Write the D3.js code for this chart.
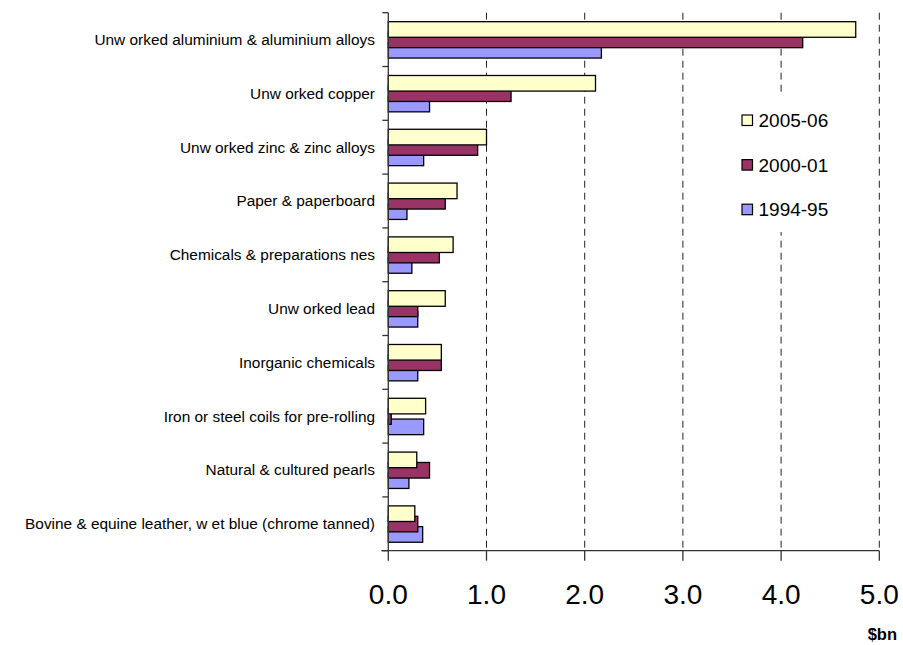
<!DOCTYPE html>
<html>
<head>
<meta charset="utf-8">
<script src="https://cdn.jsdelivr.net/npm/d3@7"></script>
<style>
  html, body { margin: 0; padding: 0; background: #fff; }
  svg { display: block; font-family: "Liberation Sans", Arial, sans-serif; }
</style>
</head>
<body>
<svg id="chart" width="903" height="645"></svg>
<script>
// Commodity categories, top to bottom
const categories = [
  "Unw orked aluminium & aluminium alloys",
  "Unw orked copper",
  "Unw orked zinc & zinc alloys",
  "Paper & paperboard",
  "Chemicals & preparations nes",
  "Unw orked lead",
  "Inorganic chemicals",
  "Iron or steel coils for pre-rolling",
  "Natural & cultured pearls",
  "Bovine & equine leather, w et blue (chrome tanned)"
];

// Series names and values ($bn)
const seriesNames = ["2005-06", "2000-01", "1994-95"];
const values2005 = [4.76, 2.11, 1.00, 0.70, 0.66, 0.58, 0.54, 0.38, 0.29, 0.27];
const values2000 = [4.22, 1.25, 0.91, 0.58, 0.52, 0.30, 0.54, 0.03, 0.42, 0.30];
const values1994 = [2.17, 0.42, 0.36, 0.19, 0.24, 0.30, 0.30, 0.36, 0.21, 0.35];
const seriesColors = ["#FFFFCC", "#993366", "#9999FF"];

const xTicks = [0, 1, 2, 3, 4, 5];
const xTickLabels = ["0.0", "1.0", "2.0", "3.0", "4.0", "5.0"];
const unitLabel = "$bn";

const seriesValues = [values2005, values2000, values1994];

const svg = d3.select("#chart");

const plot = { left: 388.3, right: 879.3, top: 12.7, bottom: 550.7 };

const x = d3.scaleLinear().domain([0, 5]).range([plot.left, plot.right]);
const y = d3.scaleBand().domain(categories).range([plot.top, plot.bottom]).paddingInner(0).paddingOuter(0);
const bw = y.bandwidth();
// overlapping bars inside each band
const barH = bw * 0.29;
const offset = d3.scalePoint().domain(seriesNames).range([bw * 0.167, bw * 0.553]);

// dashed vertical gridlines
svg.append("g")
  .selectAll("line")
  .data(xTicks.filter(d => d > 0))
  .join("line")
  .attr("x1", d => x(d)).attr("x2", d => x(d))
  .attr("y1", plot.top).attr("y2", plot.bottom)
  .attr("stroke", "#222")
  .attr("stroke-width", 1)
  .attr("stroke-dasharray", "7,5");

// bars: drawn bottom series first so the top series overlaps
const barsG = svg.append("g");
for (let s = seriesNames.length - 1; s >= 0; s--) {
  barsG.append("g")
    .selectAll("rect")
    .data(categories.map((c, i) => ({ c, v: seriesValues[s][i] })))
    .join("rect")
    .attr("x", x(0))
    .attr("y", d => y(d.c) + offset(seriesNames[s]))
    .attr("width", d => x(d.v) - x(0))
    .attr("height", barH)
    .attr("fill", seriesColors[s])
    .attr("stroke", "#000")
    .attr("stroke-width", 1.3);
}

// y axis (category boundaries as ticks)
const yAxisG = svg.append("g");
yAxisG.append("line")
  .attr("x1", plot.left).attr("x2", plot.left)
  .attr("y1", plot.top).attr("y2", plot.bottom)
  .attr("stroke", "#333").attr("stroke-width", 1.3);
const boundaries = categories.map(c => y(c)).concat([plot.bottom]);
yAxisG.selectAll("line.tk")
  .data(boundaries)
  .join("line")
  .attr("class", "tk")
  .attr("x1", plot.left - 6).attr("x2", plot.left)
  .attr("y1", d => d).attr("y2", d => d)
  .attr("stroke", "#333").attr("stroke-width", 1.3);
yAxisG.selectAll("text")
  .data(categories)
  .join("text")
  .attr("x", 375)
  .attr("y", d => y(d) + bw / 2 + 5.3)
  .attr("text-anchor", "end")
  .attr("font-size", "15.4px")
  .attr("fill", "#000")
  .text(d => d);

// x axis
const xAxisG = svg.append("g").attr("transform", `translate(0,${plot.bottom})`);
xAxisG.append("line")
  .attr("x1", plot.left - 7).attr("x2", plot.right)
  .attr("stroke", "#333").attr("stroke-width", 1.3);
xAxisG.selectAll("line.tk")
  .data(xTicks)
  .join("line")
  .attr("class", "tk")
  .attr("x1", d => x(d)).attr("x2", d => x(d))
  .attr("y1", 0).attr("y2", 10)
  .attr("stroke", "#333").attr("stroke-width", 1.3);
xAxisG.selectAll("text")
  .data(xTicks)
  .join("text")
  .attr("x", d => x(d))
  .attr("y", 53.5)
  .attr("text-anchor", "middle")
  .attr("font-size", "28px")
  .attr("fill", "#000")
  .text((d, i) => xTickLabels[i]);

svg.append("text")
  .attr("x", 897)
  .attr("y", 640)
  .attr("text-anchor", "end")
  .attr("font-size", "16.5px")
  .attr("font-weight", "bold")
  .attr("fill", "#000")
  .text(unitLabel);

// legend
const legend = svg.append("g");
legend.append("rect")
  .attr("x", 732).attr("y", 96).attr("width", 128).attr("height", 136)
  .attr("fill", "#fff");
const legendRows = legend.selectAll("g.row")
  .data(seriesNames)
  .join("g")
  .attr("class", "row")
  .attr("transform", (d, i) => `translate(742,${115 + i * 44.6})`);
legendRows.append("rect")
  .attr("width", 10.5).attr("height", 10.5)
  .attr("fill", (d, i) => seriesColors[i])
  .attr("stroke", "#000").attr("stroke-width", 1.2);
legendRows.append("text")
  .attr("x", 16.5)
  .attr("y", 12)
  .attr("font-size", "19px")
  .attr("fill", "#000")
  .text(d => d);
</script>
</body>
</html>
